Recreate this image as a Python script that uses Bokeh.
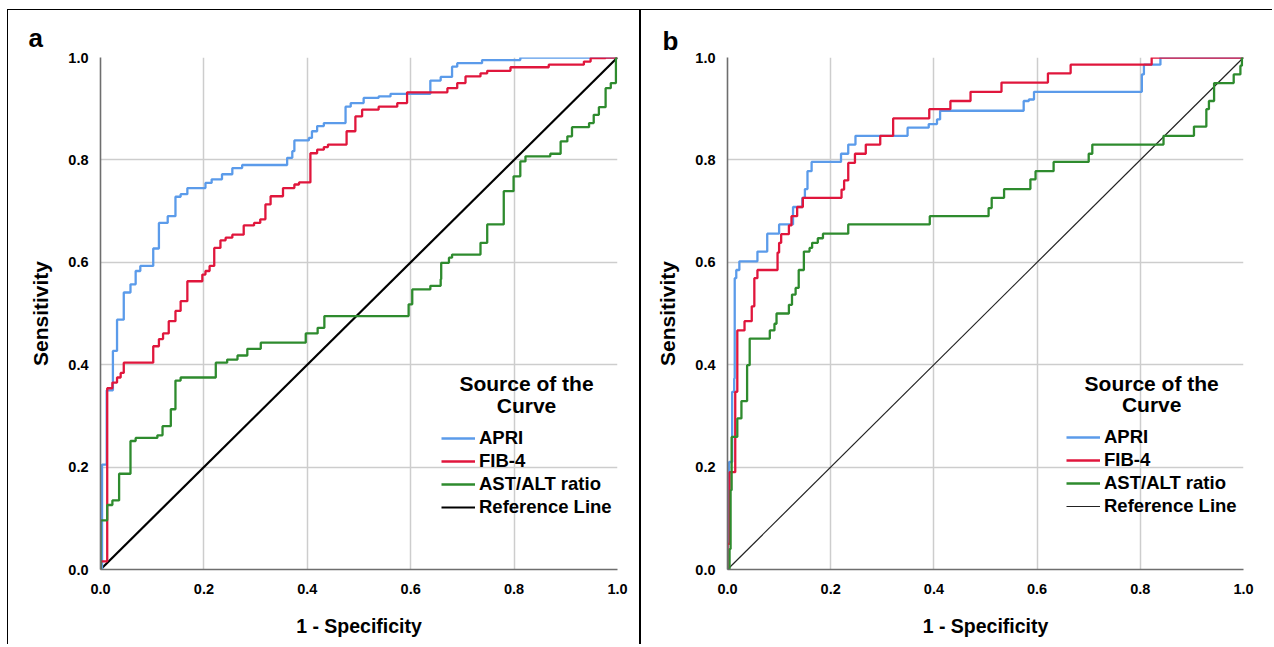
from bokeh.plotting import figure
from bokeh.layouts import row
from bokeh.models import Range1d, FixedTicker, PrintfTickFormatter, Legend, LegendItem, Label, Title
from bokeh.embed import file_html
from bokeh.resources import INLINE

# ---------------- data ----------------
# Each point (fpr, tpr): the curve rises vertically to tpr at fpr (step "after").
a_apri_fpr = [0, 0.003, 0.012, 0.024, 0.032, 0.045, 0.058, 0.068, 0.077, 0.102, 0.113, 0.13, 0.145, 0.155,
              0.168, 0.203, 0.215, 0.235, 0.255, 0.274, 0.361, 0.371, 0.375, 0.403, 0.409, 0.419, 0.432,
              0.474, 0.484, 0.509, 0.538, 0.561, 0.638, 0.658, 0.68, 0.69, 0.738, 0.812, 1.0]
a_apri_tpr = [0, 0.205, 0.35, 0.427, 0.488, 0.541, 0.557, 0.583, 0.593, 0.627, 0.677, 0.69, 0.728, 0.733,
              0.745, 0.755, 0.762, 0.772, 0.784, 0.79, 0.804, 0.817, 0.838, 0.843, 0.856, 0.866, 0.872,
              0.904, 0.911, 0.921, 0.924, 0.929, 0.955, 0.962, 0.982, 0.989, 0.995, 1.0, 1.0]

a_fib4_fpr = [0, 0, 0.013, 0.023, 0.032, 0.039, 0.045, 0.102, 0.113, 0.121, 0.132, 0.145, 0.155, 0.168,
              0.197, 0.203, 0.211, 0.22, 0.232, 0.242, 0.255, 0.277, 0.297, 0.309, 0.319, 0.329, 0.353,
              0.375, 0.384, 0.406, 0.419, 0.432, 0.44, 0.476, 0.493, 0.506, 0.538, 0.574, 0.593, 0.671,
              0.69, 0.706, 0.735, 0.748, 0.793, 0.867, 0.935, 0.948, 0.977, 1.0]
a_fib4_tpr = [0, 0.016, 0.354, 0.365, 0.375, 0.384, 0.404, 0.436, 0.45, 0.461, 0.485, 0.505, 0.524, 0.563,
              0.576, 0.583, 0.593, 0.628, 0.643, 0.648, 0.654, 0.672, 0.677, 0.684, 0.713, 0.729, 0.745,
              0.752, 0.756, 0.813, 0.82, 0.825, 0.83, 0.856, 0.885, 0.898, 0.904, 0.911, 0.932, 0.94,
              0.95, 0.963, 0.969, 0.974, 0.981, 0.986, 0.992, 0.999, 1.0, 1.0]

a_astalt_fpr = [0, 0, 0.013, 0.023, 0.036, 0.058, 0.068, 0.11, 0.12, 0.136, 0.145, 0.155, 0.223, 0.245,
                0.265, 0.284, 0.31, 0.397, 0.42, 0.433, 0.596, 0.603, 0.638, 0.658, 0.659, 0.674, 0.68,
                0.735, 0.748, 0.78, 0.799, 0.812, 0.822, 0.87, 0.89, 0.903, 0.912, 0.945, 0.954, 0.964,
                0.977, 0.987, 0.997, 1.0]
a_astalt_tpr = [0, 0.096, 0.126, 0.135, 0.187, 0.251, 0.257, 0.262, 0.28, 0.313, 0.369, 0.375, 0.404, 0.41,
                0.418, 0.431, 0.443, 0.461, 0.472, 0.495, 0.518, 0.547, 0.554, 0.567, 0.599, 0.609, 0.615,
                0.638, 0.674, 0.739, 0.768, 0.797, 0.807, 0.812, 0.836, 0.846, 0.864, 0.872, 0.888, 0.903,
                0.94, 0.95, 1.0, 1.0]

b_apri_fpr = [0, 0, 0.003, 0.009, 0.013, 0.014, 0.017, 0.023, 0.058, 0.077, 0.1, 0.127, 0.145, 0.15, 0.155,
              0.163, 0.22, 0.234, 0.248, 0.349, 0.39, 0.406, 0.412, 0.574, 0.584, 0.594, 0.803, 0.807,
              0.839, 1.0]
b_apri_tpr = [0, 0.05, 0.21, 0.347, 0.373, 0.569, 0.585, 0.602, 0.621, 0.656, 0.674, 0.708, 0.726, 0.743,
              0.778, 0.796, 0.812, 0.83, 0.847, 0.863, 0.87, 0.879, 0.896, 0.915, 0.918, 0.933, 0.967,
              0.986, 1.0, 1.0]

b_fib4_fpr = [0, 0, 0.004, 0.015, 0.019, 0.033, 0.047, 0.052, 0.058, 0.097, 0.1, 0.104, 0.119, 0.124,
              0.135, 0.146, 0.221, 0.226, 0.234, 0.247, 0.268, 0.296, 0.321, 0.391, 0.432, 0.471, 0.531,
              0.621, 0.665, 0.822, 1.0]
b_fib4_tpr = [0, 0.05, 0.19, 0.347, 0.467, 0.485, 0.514, 0.569, 0.585, 0.619, 0.638, 0.655, 0.672, 0.69,
              0.708, 0.726, 0.742, 0.76, 0.794, 0.812, 0.83, 0.847, 0.881, 0.899, 0.915, 0.933, 0.951,
              0.969, 0.986, 1.0, 1.0]

b_astalt_fpr = [0, 0.004, 0.006, 0.008, 0.019, 0.027, 0.038, 0.043, 0.082, 0.091, 0.095, 0.119, 0.125,
                0.132, 0.138, 0.148, 0.159, 0.164, 0.175, 0.185, 0.234, 0.392, 0.506, 0.512, 0.536, 0.587,
                0.597, 0.632, 0.7, 0.707, 0.845, 0.904, 0.928, 0.933, 0.943, 0.981, 0.994, 0.997, 1.0]
b_astalt_tpr = [0, 0.04, 0.155, 0.259, 0.295, 0.329, 0.399, 0.451, 0.467, 0.48, 0.5, 0.517, 0.537,
                0.55, 0.585, 0.621, 0.628, 0.638, 0.647, 0.656, 0.674, 0.69, 0.706, 0.726, 0.743, 0.762,
                0.778, 0.796, 0.812, 0.83, 0.847, 0.865, 0.899, 0.915, 0.95, 0.967, 0.984, 1.0, 1.0]

ref_x = [0, 1]
ref_y = [0, 1]

series_names = ["APRI", "FIB-4", "AST/ALT ratio", "Reference Line"]
tick_values = [0.0, 0.2, 0.4, 0.6, 0.8, 1.0]
legend_title = ["Source of the", "Curve"]

COLORS = ["#5b9bea", "#e0163c", "#2e8b2e"]
FONT = "Liberation Sans"


def make_panel(letter, curves, ref_width, ref_color, size, borders, legend_loc,
               title_xy, letter_pos, css):
    w, h = size
    bl, br, bt, bb = borders
    p = figure(width=w, height=h, x_range=Range1d(0, 1), y_range=Range1d(0, 1),
               output_backend="svg", toolbar_location=None,
               min_border_left=bl, min_border_right=br, min_border_top=bt, min_border_bottom=bb)
    p.outline_line_color = None
    p.background_fill_color = "white"
    p.styles = css

    for ax in (p.xaxis[0], p.yaxis[0]):
        ax.ticker = FixedTicker(ticks=tick_values)
        ax.formatter = PrintfTickFormatter(format="%.1f")
        ax.axis_line_color = "#6e6e6e"
        ax.axis_line_width = 1.6
        ax.major_tick_line_color = None
        ax.minor_tick_line_color = None
        ax.major_label_text_font = FONT
        ax.major_label_text_font_style = "bold"
        ax.major_label_text_font_size = "14.5px"
        ax.major_label_text_color = "#000000"
        ax.axis_label_text_font = FONT
        ax.axis_label_text_font_style = "bold"
        ax.axis_label_text_color = "#000000"
    p.xaxis.axis_label = "1 - Specificity"
    p.yaxis.axis_label = "Sensitivity"
    p.xaxis.axis_label_text_font_size = "19.5px"
    p.yaxis.axis_label_text_font_size = "21px"
    p.xaxis.major_label_standoff = 8
    p.xaxis.axis_label_standoff = 18
    p.yaxis.major_label_standoff = 6
    p.yaxis.axis_label_standoff = 13

    for g in (p.xgrid[0], p.ygrid[0]):
        g.ticker = FixedTicker(ticks=tick_values)
        g.grid_line_color = "#cdcdcd"
        g.grid_line_width = 1.5

    renderers = []
    rref = p.line(ref_x, ref_y, line_color=ref_color, line_width=ref_width)
    for (xs, ys), c in zip(curves, COLORS):
        r = p.step(xs, ys, mode="after", line_color=c, line_width=2.3)
        renderers.append(r)
    renderers.append(rref)

    items = [LegendItem(label=n, renderers=[r]) for n, r in zip(series_names, renderers)]
    leg = Legend(items=items, location=legend_loc, orientation="vertical",
                 padding=0, margin=0, spacing=1, label_height=22, glyph_height=22,
                 glyph_width=34, label_standoff=4,
                 background_fill_alpha=0, border_line_alpha=0,
                 label_text_font=FONT, label_text_font_style="bold",
                 label_text_font_size="18.5px", label_text_color="#000000")
    p.add_layout(leg)

    tx, ty1, ty2 = title_xy
    for t, ty in zip(legend_title, (ty1, ty2)):
        p.add_layout(Label(x=tx, y=ty, text=t, text_align="center", text_baseline="middle",
                           text_font=FONT, text_font_style="bold", text_font_size="21px",
                           text_color="#000000"))

    offset, standoff = letter_pos
    p.add_layout(Title(text=letter, align="left", offset=offset, standoff=standoff,
                       text_font=FONT, text_font_style="bold", text_font_size="26px",
                       text_color="#000000"), "above")
    return p


pa = make_panel("a",
                [(a_apri_fpr, a_apri_tpr), (a_fib4_fpr, a_fib4_tpr), (a_astalt_fpr, a_astalt_tpr)],
                2.2, "#000000", (634, 635), (92, 25, 47, 75), (341, 51),
                (0.824, 0.3626, 0.3197), (-72, 10),
                {"border-left": "1px solid #000", "border-top": "1px solid #000",
                 "border-right": "2px solid #000"})
pb = make_panel("b",
                [(b_apri_fpr, b_apri_tpr), (b_fib4_fpr, b_fib4_tpr), (b_astalt_fpr, b_astalt_tpr)],
                1.2, "#222222", (631, 635), (86, 29, 45, 76), (339, 52),
                (0.822, 0.364, 0.323), (-65, 4),
                {"border-top": "1px solid #000"})

layout = row(pa, pb, margin=(9, 0, 0, 7))
open("out.html", "w").write(file_html(layout, INLINE))
